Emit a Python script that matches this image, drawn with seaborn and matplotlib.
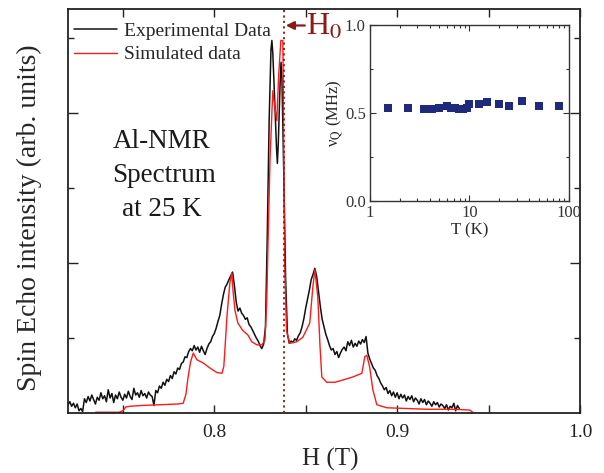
import numpy as np
import pandas as pd
import matplotlib
matplotlib.use("Agg")
import matplotlib.pyplot as plt
import seaborn as sns
from matplotlib.ticker import FixedLocator, NullFormatter, LogLocator, FormatStrFormatter

# ---------------- data ----------------
# Experimental Al-NMR spectrum (H in Tesla, intensity in arb. units)
H_exp = [0.720, 0.721, 0.722, 0.723, 0.724, 0.725, 0.726, 0.727, 0.728, 0.729,
         0.730, 0.731, 0.732, 0.733, 0.734, 0.735, 0.736, 0.737, 0.738, 0.739,
         0.740, 0.741, 0.742, 0.743, 0.744, 0.745, 0.746, 0.747, 0.748, 0.749,
         0.750, 0.751, 0.752, 0.753, 0.754, 0.755, 0.756, 0.757, 0.758, 0.759,
         0.760, 0.761, 0.762, 0.763, 0.764, 0.765, 0.766, 0.767, 0.768, 0.769,
         0.770, 0.771, 0.772, 0.773, 0.774, 0.775, 0.776, 0.777, 0.778, 0.779,
         0.780, 0.781, 0.782, 0.783, 0.784, 0.785, 0.786, 0.787, 0.788, 0.789,
         0.790, 0.791, 0.792, 0.793, 0.794, 0.795, 0.796, 0.797, 0.798, 0.799,
         0.800, 0.801, 0.802, 0.803, 0.804, 0.805, 0.806, 0.807, 0.808, 0.809,
         0.810, 0.811, 0.812, 0.813, 0.814, 0.815, 0.816, 0.817, 0.818, 0.819,
         0.820, 0.821, 0.822, 0.823, 0.824, 0.825, 0.826, 0.827, 0.828, 0.829,
         0.830, 0.831, 0.8315, 0.832, 0.833, 0.834, 0.8345, 0.835, 0.836, 0.8365,
         0.837, 0.838, 0.839, 0.840, 0.841, 0.842, 0.843, 0.844, 0.845, 0.846,
         0.847, 0.848, 0.849, 0.850, 0.851, 0.852, 0.853, 0.854, 0.855, 0.856,
         0.857, 0.858, 0.859, 0.860, 0.861, 0.862, 0.863, 0.864, 0.865, 0.866,
         0.867, 0.868, 0.869, 0.870, 0.871, 0.872, 0.873, 0.874, 0.875, 0.876,
         0.877, 0.878, 0.879, 0.880, 0.881, 0.882, 0.883, 0.884, 0.885, 0.886,
         0.887, 0.888, 0.889, 0.890, 0.891, 0.892, 0.893, 0.894, 0.895, 0.896,
         0.897, 0.898, 0.899, 0.900, 0.901, 0.902, 0.903, 0.904, 0.905, 0.906,
         0.907, 0.908, 0.909, 0.910, 0.911, 0.912, 0.913, 0.914, 0.915, 0.916,
         0.917, 0.918, 0.919, 0.920, 0.921, 0.922, 0.923, 0.924, 0.925, 0.926,
         0.927, 0.928, 0.929, 0.930, 0.931, 0.932, 0.933, 0.934]
I_exp = [0.11, 0.15, 0.09, 0.13, 0.07, 0.12, 0.03, 0.06, 0.02, 0.19,
         0.14, 0.22, 0.16, 0.24, 0.18, 0.12, 0.21, 0.17, 0.27, 0.19,
         0.23, 0.15, 0.31, 0.20, 0.26, 0.14, 0.24, 0.19, 0.28, 0.21,
         0.17, 0.25, 0.20, 0.29, 0.22, 0.18, 0.33, 0.24, 0.27, 0.21,
         0.30, 0.23, 0.26, 0.20, 0.28, 0.24, 0.22, 0.10, 0.30, 0.27,
         0.36, 0.33, 0.41, 0.37, 0.45, 0.42, 0.50, 0.46, 0.55, 0.52,
         0.60, 0.58, 0.66, 0.68, 0.75, 0.74, 0.82, 0.86, 0.83, 0.90,
         0.84, 0.88, 0.81, 0.89, 0.83, 0.78, 0.86, 0.92, 0.95, 1.02,
         1.06, 1.13, 1.22, 1.30, 1.45, 1.58, 1.68, 1.72, 1.78, 1.83,
         1.88, 1.70, 1.48, 1.36, 1.40, 1.33, 1.30, 1.25, 1.27, 1.18,
         1.15, 1.10, 1.05, 1.00, 0.96, 0.90, 0.86, 0.92, 1.15, 2.40,
         3.90, 4.85, 4.97, 4.80, 4.20, 3.55, 3.33, 3.60, 4.40, 4.68,
         4.45, 3.20, 1.80, 1.05, 0.93, 0.96, 0.94, 0.99, 0.97, 1.03,
         1.07, 1.15, 1.26, 1.40, 1.52, 1.64, 1.78, 1.85, 1.93, 1.82,
         1.62, 1.42, 1.25, 1.15, 1.05, 0.98, 0.90, 0.84, 0.86, 0.78,
         0.82, 0.74, 0.80, 0.85, 0.88, 0.83, 0.95, 0.90, 0.97, 0.88,
         0.93, 0.89, 0.96, 0.92, 0.98, 0.94, 1.02, 0.80, 0.72, 0.66,
         0.60, 0.57, 0.50, 0.46, 0.40, 0.36, 0.31, 0.34, 0.26, 0.30,
         0.23, 0.28, 0.21, 0.27, 0.19, 0.25, 0.20, 0.24, 0.16, 0.22,
         0.18, 0.23, 0.15, 0.20, 0.17, 0.12, 0.19, 0.14, 0.18, 0.11,
         0.16, 0.13, 0.09, 0.15, 0.11, 0.14, 0.08, 0.12, 0.10, 0.06,
         0.11, 0.04, 0.09, 0.07, 0.13, 0.03, 0.10, 0.06]

# Simulated spectrum
H_sim = [0.7351, 0.7480, 0.7500, 0.7516, 0.7540, 0.7600, 0.7700, 0.7800, 0.7830, 0.7845,
         0.7855, 0.7870, 0.7885, 0.7905, 0.7938, 0.7976, 0.8014, 0.8042, 0.8052, 0.8058,
         0.8069, 0.8085, 0.8096, 0.8102, 0.8113, 0.8129, 0.8156, 0.8184, 0.8205, 0.8233,
         0.8260, 0.8277, 0.8287, 0.8293, 0.8305, 0.8320, 0.8330, 0.8342, 0.8352, 0.8364,
         0.8375, 0.8385, 0.8395, 0.8413, 0.8451, 0.8484, 0.8522, 0.8539, 0.8550, 0.8566,
         0.8578, 0.8588, 0.8615, 0.8660, 0.8703, 0.8757, 0.8807, 0.8823, 0.8834, 0.8850,
         0.8867, 0.8889, 0.8943, 0.9050, 0.9162, 0.9300, 0.9397, 0.9413]
I_sim = [0.01, 0.01, 0.03, 0.08, 0.09, 0.10, 0.11, 0.12, 0.13, 0.25,
         0.45, 0.68, 0.80, 0.71, 0.67, 0.60, 0.54, 0.53, 0.62, 0.84,
         1.28, 1.73, 1.87, 1.64, 1.37, 1.20, 1.10, 1.04, 0.95, 0.91,
         0.91, 0.97, 1.50, 2.17, 3.40, 4.30, 4.10, 3.90, 4.50, 4.97,
         4.97, 2.00, 1.10, 0.93, 0.95, 1.01, 1.20, 1.68, 1.91, 1.55,
         0.90, 0.48, 0.41, 0.41, 0.44, 0.48, 0.53, 0.75, 0.77, 0.61,
         0.31, 0.11, 0.07, 0.06, 0.05, 0.05, 0.04, 0.01]

H0 = 0.838

# Inset: quadrupole frequency vs temperature
T_K = [1.53, 2.4, 3.5, 4.2, 4.95, 5.9, 6.5, 7.2, 7.9, 8.7,
       9.4, 10.0, 12.4, 15.0, 20.0, 25.0, 34.0, 50.0, 79.0]
nuQ = [0.53, 0.53, 0.52, 0.52, 0.53, 0.54, 0.53, 0.53, 0.525, 0.52,
       0.53, 0.55, 0.55, 0.56, 0.55, 0.54, 0.57, 0.54, 0.54]

main_xticks = [0.8, 0.9, 1.0]
main_xticklabels = ["0.8", "0.9", "1.0"]

# ---------------- style ----------------
sns.set_style("ticks")
plt.rcParams['font.family'] = ['Liberation Serif', 'DejaVu Serif']
plt.rcParams['mathtext.fontset'] = 'stix'

maroon = '#8b1a1a'
navy = '#1f2a7c'

W, Hh = 604, 473
fig = plt.figure(figsize=(W / 100, Hh / 100), dpi=100)
ax = fig.add_axes([68 / W, 1 - 413 / Hh, 512 / W, 404 / Hh])

df_exp = pd.DataFrame({'H': H_exp, 'I': I_exp})
df_sim = pd.DataFrame({'H': H_sim, 'I': I_sim})
sns.lineplot(data=df_exp, x='H', y='I', ax=ax, color='#111111', lw=1.1,
             sort=False, estimator=None, label='Experimental Data')
sns.lineplot(data=df_sim, x='H', y='I', ax=ax, color='#ff1a1a', lw=1.0,
             sort=False, estimator=None, label='Simulated data')
ax.axvline(H0, color=maroon, ls=(0, (1.2, 1.8)), lw=1.3, zorder=3)

ax.set_xlim(0.72, 1.0)
ax.set_ylim(0, 5.39)
ax.xaxis.set_major_locator(FixedLocator(main_xticks))
ax.set_xticklabels(main_xticklabels)
ax.xaxis.set_minor_locator(FixedLocator([0.75, 0.85, 0.95]))
ax.yaxis.set_major_locator(FixedLocator([2, 4]))
ax.yaxis.set_minor_locator(FixedLocator([1, 3, 5]))
ax.yaxis.set_major_formatter(NullFormatter())
ax.tick_params(which='both', direction='in', top=True, right=True, width=1.0, colors='#222222')
ax.tick_params(axis='x', which='both', length=6, labelsize=14, pad=8)
ax.tick_params(axis='y', which='major', length=7)
ax.tick_params(axis='y', which='minor', length=4)
for s in ax.spines.values():
    s.set_linewidth(1.3)
    s.set_color('#222222')

ax.set_xlabel('H (T)', fontsize=18)
ax.xaxis.set_label_coords((330 - 68) / 512, (413 - 448) / 404)
ax.set_ylabel('Spin Echo intensity (arb. units)', fontsize=20)
ax.yaxis.set_label_coords((42 - 68) / 512, (413 - 218) / 404)

ax.legend(loc='upper left', bbox_to_anchor=(0.012, 0.968), frameon=False, fontsize=14,
          handlelength=2.2, handletextpad=0.35, labelspacing=0.32, borderpad=0, borderaxespad=0)

for txt, px, py in [('Al-NMR', 113, 142), ('Spectrum', 112, 176), ('at 25 K', 122, 209)]:
    ax.text((px - 68) / 512, (413 - py) / 404, txt, transform=ax.transAxes,
            ha='left', va='center', fontsize=19.5, color='#1a1a1a')

# H0 arrow + label
ax.annotate('', xy=(0.8391, 5.17), xytext=(0.8495, 5.17),
            arrowprops=dict(arrowstyle='-|>', color=maroon, lw=1.6, mutation_scale=12,
                            shrinkA=0, shrinkB=0))
ax.text(0.8503, 5.15, r'H$_0$', color=maroon, fontsize=23, ha='left', va='center')

# ---------------- inset ----------------
ax2 = fig.add_axes([370 / W, 1 - 201 / Hh, 198.7 / W, 176 / Hh])
df_in = pd.DataFrame({'T': T_K, 'nu': nuQ})
sns.scatterplot(data=df_in, x='T', y='nu', ax=ax2, marker='s', s=38, color=navy,
                edgecolor=navy, linewidth=0)
ax2.set_xscale('log')
ax2.set_xlim(1, 100)
ax2.set_ylim(0, 1.0)
ax2.xaxis.set_major_locator(FixedLocator([1, 10, 100]))
ax2.set_xticklabels(['1', '10', '100'])
ax2.xaxis.set_minor_locator(LogLocator(base=10, subs=np.arange(2, 10)))
ax2.xaxis.set_minor_formatter(NullFormatter())
ax2.yaxis.set_major_locator(FixedLocator([0.0, 0.5, 1.0]))
ax2.yaxis.set_major_formatter(FormatStrFormatter('%.1f'))
ax2.yaxis.set_minor_locator(FixedLocator([0.25, 0.75]))
ax2.tick_params(which='both', direction='in', top=True, right=True, labelsize=12,
                width=0.8, colors='#333333', pad=3)
ax2.tick_params(which='major', length=4)
ax2.tick_params(which='minor', length=2.5)
for s in ax2.spines.values():
    s.set_linewidth(1.0)
    s.set_color('#333333')
ax2.set_xlabel('T (K)', fontsize=12, labelpad=1)
ax2.set_ylabel(r'ν$_{\rm Q}$ (MHz)', fontsize=12, labelpad=-1)

fig.savefig('out.png', dpi=100)
